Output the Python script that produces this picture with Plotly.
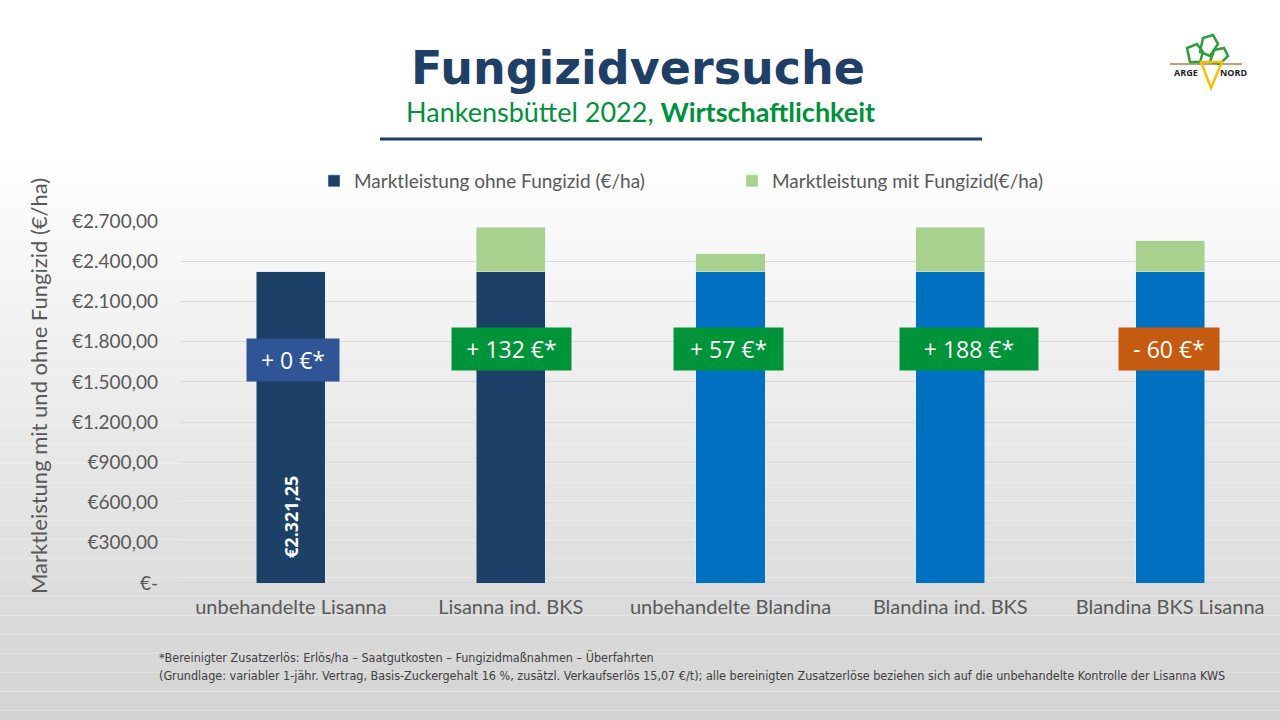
import plotly.graph_objects as go

# data
categories = ["unbehandelte Lisanna", "Lisanna ind. BKS", "unbehandelte Blandina",
              "Blandina ind. BKS", "Blandina BKS Lisanna"]
ohne_fungizid = [2321.25, 2321.25, 2321.25, 2321.25, 2321.25]
mit_fungizid_extra = [0, 334, 133, 334, 230]
base_label = "€2.321,25"
gain_labels = ["+ 0 €*", "+ 132 €*", "+ 57 €*", "+ 188 €*", "- 60 €*"]
gain_y = [1663, 1745, 1745, 1745, 1745]
tick_vals = [0, 300, 600, 900, 1200, 1500, 1800, 2100, 2400, 2700]
tick_text = ["€-", "€300,00", "€600,00", "€900,00", "€1.200,00", "€1.500,00",
             "€1.800,00", "€2.100,00", "€2.400,00", "€2.700,00"]

NAVY = "#1D4066"
BLUE = "#0070C0"
LIGHTGREEN = "#A9D18E"
GREY_TXT = "#595959"
bar_colors = [NAVY, NAVY, BLUE, BLUE, BLUE]
box_colors = ["#2F5597", "#00943A", "#00943A", "#00943A", "#C55A11"]
box_widths = [76, 103, 93, 122, 84]
box_shift = [2, 1, -2, 19, -1]

# plot area in pixels
L, R, T, B = 181, 1280, 221, 583


def px(x):
    return (x - L) / (R - L)


def py(y):
    return (B - y) / (B - T)


fig = go.Figure()
fig.add_trace(go.Bar(
    x=categories, y=ohne_fungizid,
    name="Marktleistung ohne Fungizid (€/ha)",
    marker_color=bar_colors,
))
fig.add_trace(go.Bar(
    x=categories, y=mit_fungizid_extra,
    name="Marktleistung mit Fungizid(€/ha)",
    marker_color=LIGHTGREEN,
))

# background gradient
shapes = []
n = 60
y0, y1 = 150, 720
for i in range(n):
    a = y0 + (y1 - y0) * i / n
    b = y0 + (y1 - y0) * (i + 1) / n
    t = (i + 0.5) / n
    g = int(round(255 - (255 - 211) * t))
    shapes.append(dict(type="rect", xref="paper", yref="paper",
                       x0=px(0), x1=px(1280), y0=py(b), y1=py(a),
                       fillcolor=f"rgb({g},{g},{g})", line_width=0, layer="below"))

# title underline
shapes.append(dict(type="line", xref="paper", yref="paper",
                   x0=px(380), x1=px(982), y0=py(139), y1=py(139),
                   line=dict(color=NAVY, width=3)))

# logo (rough)
shapes.append(dict(type="line", xref="paper", yref="paper",
                   x0=px(1170), x1=px(1242), y0=py(64), y1=py(64),
                   line=dict(color="#B07A50", width=1.5)))
leaf = "#2E9E3A"
for path in [
    "M 1190 62 L 1187 48 L 1197 44 L 1203 52 L 1200 62 Z",
    "M 1200 52 L 1203 38 L 1213 35 L 1218 44 L 1210 56 Z",
    "M 1210 62 L 1214 50 L 1224 48 L 1228 56 L 1220 64 Z",
]:
    pts = path.replace("M", "").replace("Z", "").split("L")
    d = ""
    for k, p in enumerate(pts):
        xx, yy = [float(v) for v in p.split()]
        d += ("M " if k == 0 else " L ") + f"{px(xx):.5f},{py(yy):.5f}"
    shapes.append(dict(type="path", xref="paper", yref="paper", path=d + " Z",
                       line=dict(color=leaf, width=2.5), fillcolor="rgba(0,0,0,0)"))
carrot = "M {},{} L {},{} L {},{} Z".format(
    f"{px(1201):.5f}", f"{py(62):.5f}", f"{px(1211):.5f}", f"{py(88):.5f}",
    f"{px(1222):.5f}", f"{py(62):.5f}")
shapes.append(dict(type="path", xref="paper", yref="paper", path=carrot,
                   line=dict(color="#F2C200", width=2.5), fillcolor="rgba(0,0,0,0)"))


def note(x, y, text, font, **kw):
    d = dict(x=px(x), xref="paper", y=py(y), yref="paper", text=text, showarrow=False,
             xanchor="center", yanchor="middle", font=font)
    d.update(kw)
    return d


annotations = [
    note(638, 68, "<b>Fungizidversuche</b>",
         dict(family="DejaVu Sans", size=46, color="#1F3F66")),
    note(640, 112, "Hankensbüttel 2022, <b>Wirtschaftlichkeit</b>",
         dict(family="Lato", size=27, color="#00913A")),
    note(1186, 73, "<b>ARGE</b>", dict(family="Open Sans", size=9, color="#222222")),
    note(1233, 73, "<b>NORD</b>", dict(family="Open Sans", size=9, color="#222222")),
    note(38, 386, "Marktleistung mit und ohne Fungizid (€/ha)",
         dict(family="Lato", size=22, color=GREY_TXT), textangle=-90),
]

# base value label inside first bar
annotations.append(dict(x=categories[0], y=492, text=f"<b>{base_label}</b>", textangle=-90,
                        showarrow=False,
                        font=dict(family="Open Sans", size=18, color="white")))

for cat, lab, yv, col, w, sh in zip(categories, gain_labels, gain_y, box_colors,
                                    box_widths, box_shift):
    annotations.append(dict(x=cat, y=yv, text=lab, showarrow=False, xshift=sh,
                            bgcolor=col, borderpad=8, width=w, height=26,
                            font=dict(family="Open Sans", size=23, color="white")))

foot_font = dict(family="Liberation Sans Narrow, DejaVu Sans Condensed, sans-serif",
                 size=12.5, color="#404040")
annotations.append(note(157, 657, "*Bereinigter Zusatzerlös: Erlös/ha – Saatgutkosten – "
                                  "Fungizidmaßnahmen – Überfahrten",
                        foot_font, xanchor="left"))
annotations.append(note(157, 675, "(Grundlage: variabler 1-jähr. Vertrag, Basis-Zuckergehalt 16 %, "
                                  "zusätzl. Verkaufserlös 15,07 €/t); alle bereinigten Zusatzerlöse "
                                  "beziehen sich auf die unbehandelte Kontrolle der Lisanna KWS",
                        foot_font, xanchor="left"))

fig.update_layout(
    width=1280, height=720,
    margin=dict(l=L, r=1280 - R, t=T, b=720 - B, autoexpand=False),
    barmode="stack",
    bargap=0.686,
    paper_bgcolor="white",
    plot_bgcolor="rgba(0,0,0,0)",
    font=dict(family="Lato", color=GREY_TXT, size=19),
    showlegend=True,
    legend=dict(orientation="h", x=px(314), xanchor="left", y=py(181), yanchor="middle",
                traceorder="normal", entrywidth=373, entrywidthmode="pixels",
                font=dict(family="Lato", size=19, color=GREY_TXT),
                bgcolor="rgba(0,0,0,0)"),
    shapes=shapes,
    annotations=annotations,
    xaxis=dict(showgrid=False, showline=False, ticks="", ticklabelstandoff=10,
               tickfont=dict(family="Lato", size=20, color=GREY_TXT)),
    yaxis=dict(range=[0, 2700], tickvals=tick_vals, ticktext=tick_text,
               showgrid=True, gridcolor="#D9D9D9", gridwidth=1,
               zeroline=True, zerolinecolor="#D9D9D9", showline=False,
               ticklabelstandoff=22,
               tickfont=dict(family="Lato", size=19, color=GREY_TXT)),
)

fig.write_html("out.html", config={"displayModeBar": False},
               post_script="document.body.style.margin = '0px';")
